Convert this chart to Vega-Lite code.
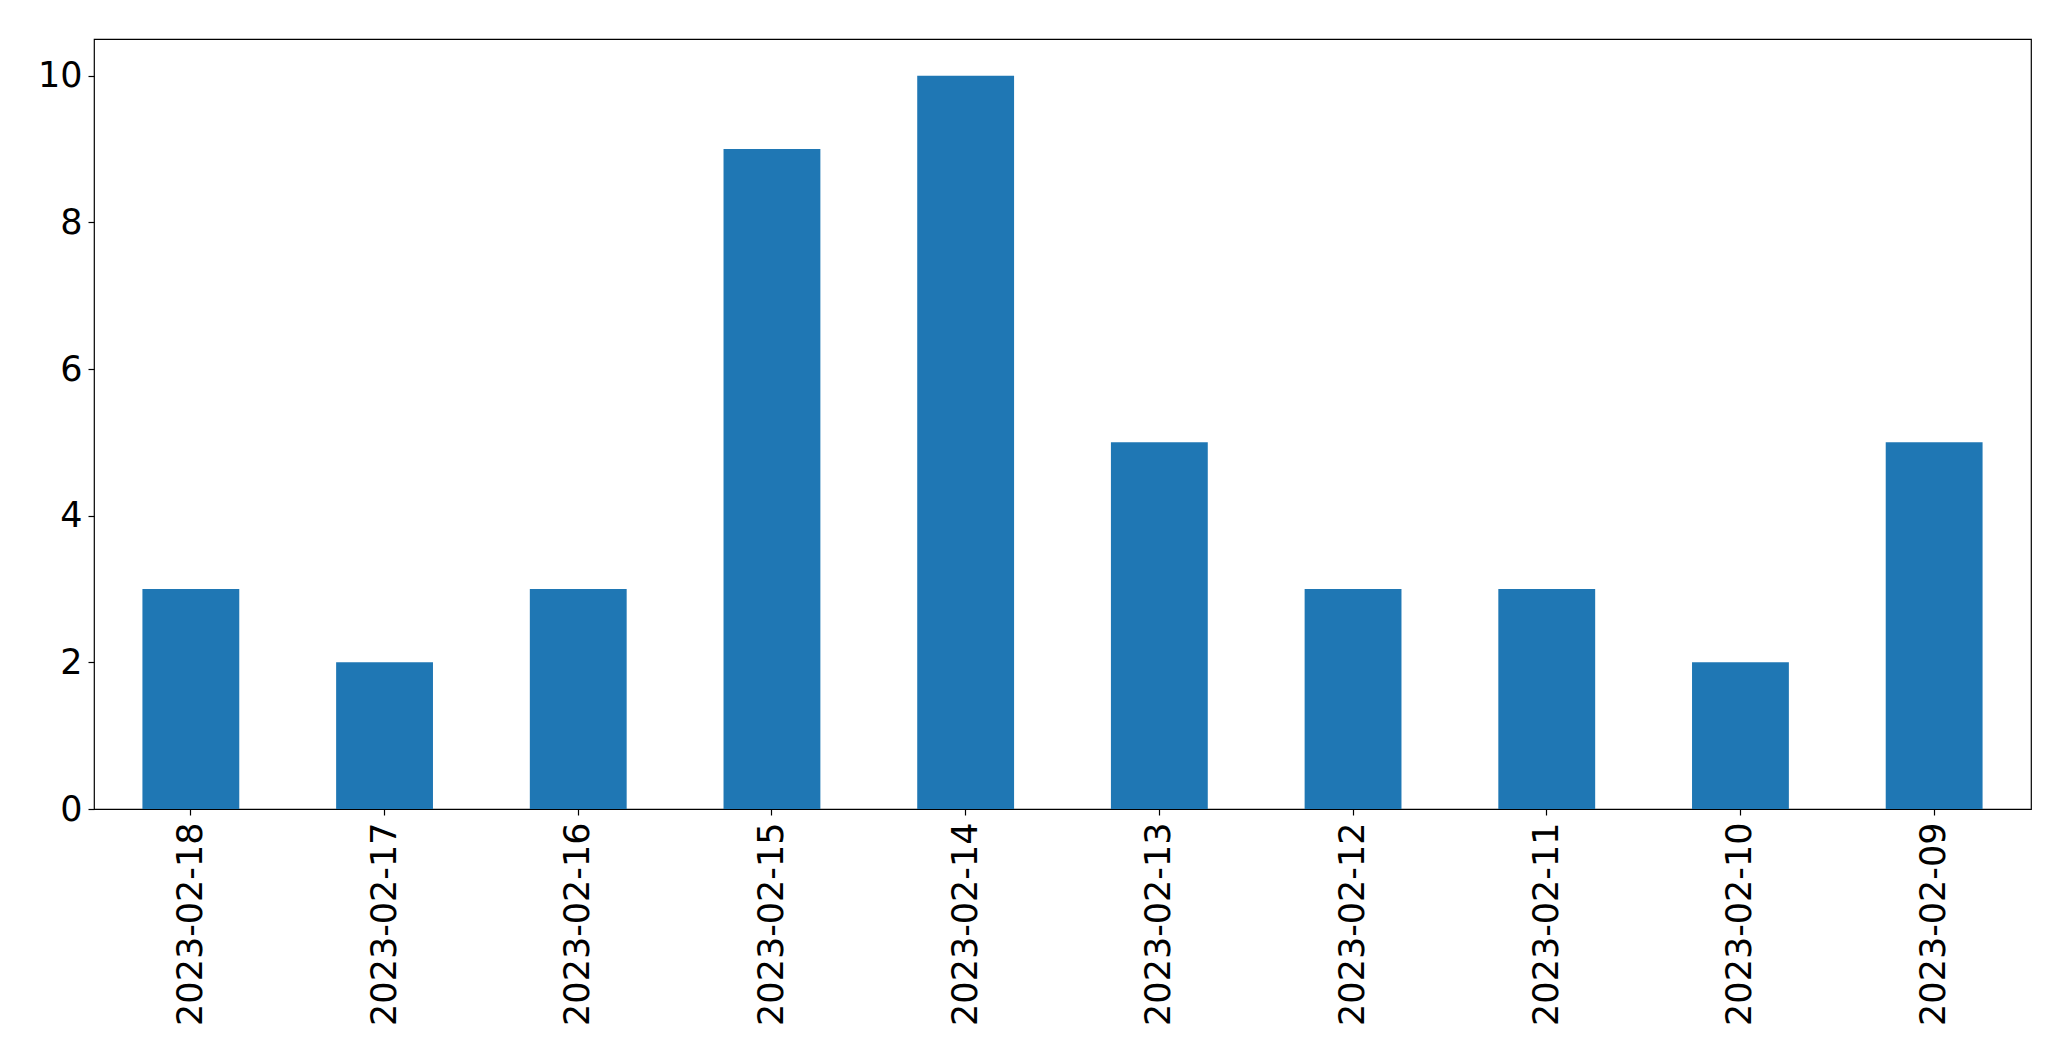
{
  "$schema": "https://vega.github.io/schema/vega-lite/v6.json",
  "autosize": {"type": "none"},
  "padding": {"left": 94, "top": 39, "right": 40, "bottom": 252},
  "width": 1937,
  "height": 770,
  "background": "white",
  "config": {
    "view": {"stroke": "black", "strokeWidth": 1.2},
    "font": "DejaVu Sans",
    "axis": {
      "domain": false,
      "grid": false,
      "tickColor": "black",
      "tickWidth": 1.2,
      "tickSize": 6,
      "labelFont": "DejaVu Sans",
      "labelFontSize": 35,
      "labelColor": "black",
      "title": null
    }
  },
  "data": {
    "values": [
      {"date": "2023-02-18", "count": 3},
      {"date": "2023-02-17", "count": 2},
      {"date": "2023-02-16", "count": 3},
      {"date": "2023-02-15", "count": 9},
      {"date": "2023-02-14", "count": 10},
      {"date": "2023-02-13", "count": 5},
      {"date": "2023-02-12", "count": 3},
      {"date": "2023-02-11", "count": 3},
      {"date": "2023-02-10", "count": 2},
      {"date": "2023-02-09", "count": 5}
    ]
  },
  "mark": {"type": "bar", "color": "#1f77b4"},
  "encoding": {
    "x": {
      "field": "date",
      "type": "nominal",
      "sort": null,
      "scale": {"paddingInner": 0.5, "paddingOuter": 0.25},
      "axis": {"labelAngle": -90, "labelPadding": 7, "labelFontSize": 35, "labelLimit": 400}
    },
    "y": {
      "field": "count",
      "type": "quantitative",
      "scale": {"domain": [0, 10.5], "nice": false},
      "axis": {"values": [0, 2, 4, 6, 8, 10], "labelPadding": 6, "labelFontSize": 35}
    }
  }
}
